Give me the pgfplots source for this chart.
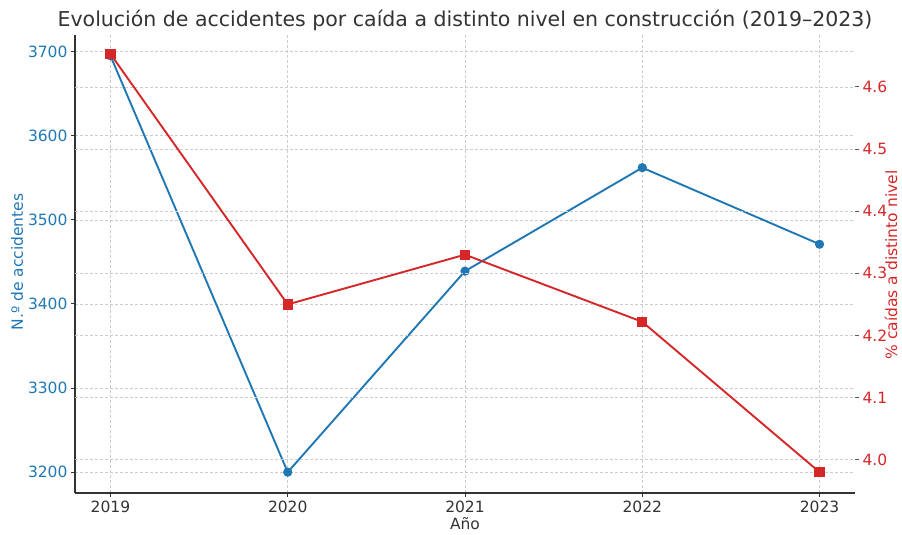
\documentclass[border=0pt]{standalone}
\usepackage{pgfplots}
\pgfplotsset{compat=1.18}
\usepackage{fontspec}
\setmainfont{DejaVu Sans}
\definecolor{cblue}{HTML}{1F77B4}
\definecolor{cred}{HTML}{D62728}
\definecolor{ctext}{HTML}{333333}
\definecolor{cgrid}{HTML}{CCCCCC}
\begin{document}
\begin{tikzpicture}
\path[use as bounding box] (-75pt,-42pt) rectangle (827pt,493pt);
\pgfplotsset{
  common/.style={
    at={(0pt,0pt)}, anchor=south west, scale only axis,
    width=780pt, height=458pt,
    xmin=2018.8, xmax=2023.2,
    /pgf/number format/assume math mode=true,
    tick label style={font=\fontsize{15.5}{18}\selectfont},
    tick align=outside, major tick length=4pt,
    grid style={densely dashed, cgrid, line width=0.6pt},
    clip=false,
  }
}
\begin{axis}[common,
  ymin=3175.25, ymax=3719.75,
  axis x line*=bottom, axis y line*=left,
  axis line style={ctext, line width=1.2pt},
  xtick={2019,2020,2021,2022,2023},
  xticklabels={2019,2020,2021,2022,2023},
  ytick={3200,3300,3400,3500,3600,3700},
  yticklabels={3200,3300,3400,3500,3600,3700},
  xmajorgrids, ymajorgrids,
  x tick label style={ctext},
  y tick label style={cblue},
  tick style={ctext, line width=1pt},
]
\addplot[cblue, line width=1.9pt, mark=*, mark size=3.6pt, mark options={solid, fill=cblue}]
  coordinates {(2019,3695) (2020,3200) (2021,3439) (2022,3562) (2023,3471)};
\end{axis}
\begin{axis}[common,
  ymin=3.9465, ymax=4.6835,
  axis x line=none, axis y line*=right,
  y axis line style={draw=none},
  ytick={4.0,4.1,4.2,4.3,4.4,4.5,4.6},
  yticklabels={4.0,4.1,4.2,4.3,4.4,4.5,4.6},
  ymajorgrids,
  y tick label style={cred},
  tick style={ctext!80, line width=1pt},
]
\addplot[cred, line width=1.9pt, mark=square*, mark size=4.2pt, mark options={solid, fill=cred}]
  coordinates {(2019,4.653) (2020,4.25) (2021,4.33) (2022,4.222) (2023,3.98)};
\end{axis}
\node[ctext, font=\fontsize{20.5}{24}\selectfont, anchor=base] at (390pt,466pt)
  {Evolución de accidentes por caída a distinto nivel en construcción (2019–2023)};
\node[ctext, font=\fontsize{15.5}{18}\selectfont, anchor=base] at (390pt,-37pt) {Año};
\node[cblue, font=\fontsize{15.5}{18}\selectfont, rotate=90, inner sep=1pt] at (-58pt,231pt) {N.º de accidentes};
\node[cred, font=\fontsize{15.5}{18}\selectfont, rotate=90, inner sep=1pt] at (816pt,228pt) {\% caídas a distinto nivel};
\end{tikzpicture}
\end{document}
